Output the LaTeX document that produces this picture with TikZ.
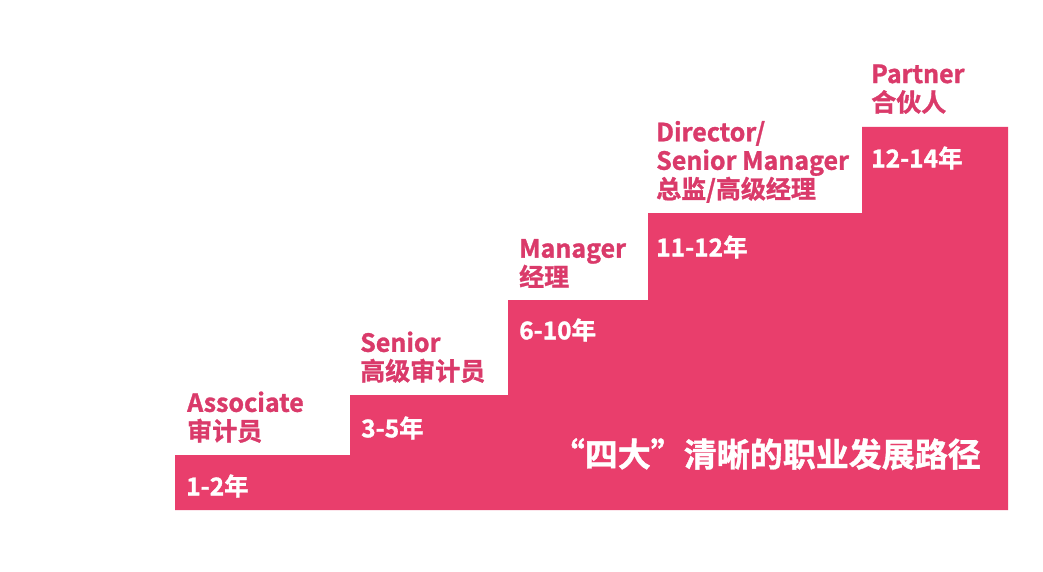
\documentclass[tikz,border=0pt]{standalone}
\usepackage{fontspec}
\setmainfont{Noto Sans CJK SC}[BoldFont={Noto Sans CJK SC Bold},
  BoldFeatures={FakeBold=1.2}]
\usepackage{tikz}
\usetikzlibrary{positioning,calc}
\usepackage{xcolor}
\definecolor{StairPink}{RGB}{233,62,108}
\definecolor{LabelPink}{RGB}{218,58,106}

\begin{document}
\begin{tikzpicture}[x=1pt,y=-1pt,
  rolelbl/.style={anchor=south west,inner sep=0pt,align=left,text=LabelPink,
    font=\bfseries\fontsize{25}{28.5}\selectfont},
  yearlbl/.style={anchor=west,inner sep=0pt,text=white,
    font=\bfseries\fontsize{24.5}{28}\selectfont}]
\useasboundingbox[fill=white] (0,0) rectangle (1043,572);
% step corners
\coordinate (s1) at (175,455);
\coordinate (s2) at (350,395);
\coordinate (s3) at (508,300);
\coordinate (s4) at (648,213);
\coordinate (s5) at (862,127);
\fill[StairPink] (175,510) -- (s1) -| (s2) -| (s3) -| (s4) -| (s5)
  -| (1008,510) -- cycle;
% years on the steps
\node[yearlbl] (y1) at ([shift={(11,31)}]s1) {1-2年};
\node[yearlbl] (y2) at ([shift={(11,33)}]s2) {3-5年};
\node[yearlbl] (y3) at ([shift={(11,30)}]s3) {6-10年};
\node[yearlbl] (y4) at ([shift={(8,34)}]s4) {11-12年};
\node[yearlbl] (y5) at ([shift={(9,31)}]s5) {12-14年};
% roles above the steps
\node[rolelbl] (associate) at ([shift={(12,-12)}]s1) {Associate\\审计员};
\node[rolelbl] (senior) at ([shift={(10,-12)}]s2) {Senior\\高级审计员};
\node[rolelbl] (manager) at ([shift={(11,-12)}]s3) {Manager\\经理};
\node[rolelbl] (director) at ([shift={(8,-10)}]s4)
  {Director/\\Senior Manager\\总监/高级经理};
\node[rolelbl] (partner) at ([shift={(9,-13)}]s5) {Partner\\合伙人};
\node[anchor=east,inner sep=0pt,text=white,
      font=\bfseries\fontsize{33}{40}\selectfont] (title) at (981,454)
  {“四大”清晰的职业发展路径};
\end{tikzpicture}
\end{document}
